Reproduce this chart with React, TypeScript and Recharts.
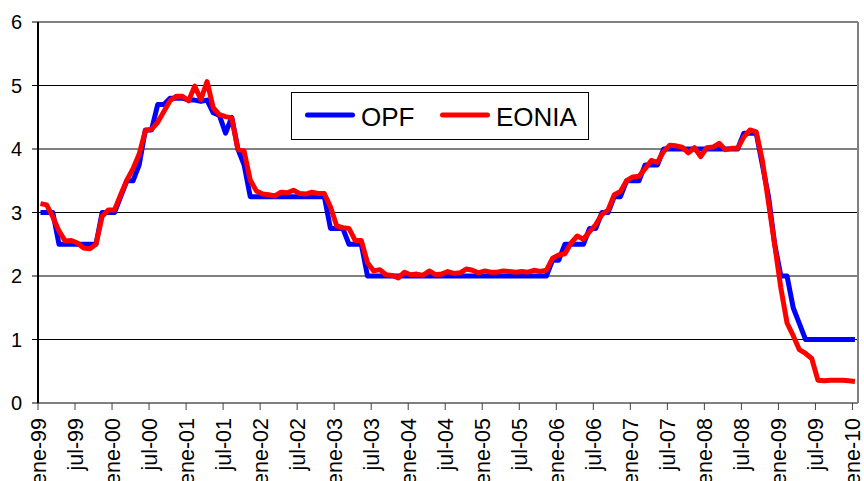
import React from 'react';
import { LineChart, Line, XAxis, YAxis, CartesianGrid, ReferenceLine, Legend } from 'recharts';

const FONT = "'Liberation Sans', Arial, Helvetica, sans-serif";

const monthNames = ['ene', 'feb', 'mar', 'abr', 'may', 'jun', 'jul', 'ago', 'sep', 'oct', 'nov', 'dic'];
const years = ['99', '00', '01', '02', '03', '04', '05', '06', '07', '08', '09', '10'];

const tickLabels = [
  'ene-99', 'jul-99', 'ene-00', 'jul-00', 'ene-01', 'jul-01', 'ene-02', 'jul-02',
  'ene-03', 'jul-03', 'ene-04', 'jul-04', 'ene-05', 'jul-05', 'ene-06', 'jul-06',
  'ene-07', 'jul-07', 'ene-08', 'jul-08', 'ene-09', 'jul-09', 'ene-10',
];

const opf = [
  3.0, 3.0, 3.0, 2.5, 2.5, 2.5, 2.5, 2.5, 2.5, 2.5, 3.0, 3.0,
  3.0, 3.25, 3.5, 3.5, 3.75, 4.3, 4.3, 4.7, 4.7, 4.8, 4.8, 4.8,
  4.77, 4.77, 4.75, 4.77, 4.57, 4.53, 4.25, 4.5, 4.0, 3.75, 3.25, 3.25,
  3.25, 3.25, 3.25, 3.25, 3.25, 3.25, 3.25, 3.25, 3.25, 3.25, 3.25, 2.75,
  2.75, 2.75, 2.5, 2.5, 2.5, 2.0, 2.0, 2.0, 2.0, 2.0, 2.0, 2.0,
  2.0, 2.0, 2.0, 2.0, 2.0, 2.0, 2.0, 2.0, 2.0, 2.0, 2.0, 2.0,
  2.0, 2.0, 2.0, 2.0, 2.0, 2.0, 2.0, 2.0, 2.0, 2.0, 2.0, 2.25,
  2.25, 2.5, 2.5, 2.5, 2.5, 2.75, 2.75, 3.0, 3.0, 3.25, 3.25, 3.5,
  3.5, 3.5, 3.75, 3.75, 3.75, 4.0, 4.0, 4.0, 4.0, 4.0, 4.0, 4.0,
  4.0, 4.0, 4.0, 4.0, 4.0, 4.0, 4.25, 4.25, 4.25, 3.75, 3.25, 2.5,
  2.0, 2.0, 1.5, 1.25, 1.0, 1.0, 1.0, 1.0, 1.0, 1.0, 1.0, 1.0,
  1.0,
];

const eonia = [
  3.14, 3.12, 2.93, 2.71, 2.55, 2.56, 2.52, 2.44, 2.43, 2.50, 2.94, 3.04,
  3.04, 3.28, 3.51, 3.69, 3.92, 4.29, 4.31, 4.42, 4.59, 4.76, 4.83, 4.83,
  4.76, 4.99, 4.78, 5.06, 4.65, 4.54, 4.51, 4.49, 3.99, 3.97, 3.51, 3.34,
  3.29, 3.28, 3.26, 3.32, 3.31, 3.35, 3.30, 3.29, 3.32, 3.30, 3.30, 3.09,
  2.79, 2.76, 2.75, 2.56, 2.56, 2.21, 2.08, 2.10, 2.02, 2.01, 1.97, 2.06,
  2.02, 2.03, 2.01, 2.08, 2.02, 2.03, 2.07, 2.04, 2.05, 2.11, 2.09, 2.05,
  2.08, 2.06, 2.06, 2.08, 2.07, 2.06, 2.07, 2.06, 2.09, 2.07, 2.09, 2.28,
  2.33, 2.35, 2.52, 2.63, 2.58, 2.70, 2.81, 2.97, 3.04, 3.28, 3.33, 3.50,
  3.56, 3.57, 3.69, 3.82, 3.79, 3.96, 4.06, 4.05, 4.03, 3.94, 4.02, 3.88,
  4.02, 4.03, 4.09, 3.99, 4.01, 4.01, 4.19, 4.30, 4.27, 3.82, 3.15, 2.49,
  1.81, 1.26, 1.06, 0.84, 0.78, 0.70, 0.36, 0.35, 0.36, 0.36, 0.36, 0.35,
  0.34,
];

const seriesNames = ['OPF', 'EONIA'];
const seriesColors = ['#0000FF', '#FF0000'];

const yTicks = [0, 1, 2, 3, 4, 5, 6];

// layout constants
const TICK_SHIFT = -0.4;
const X_MAX = 132.5;

const data = opf.map((v, i) => ({
  t: i,
  month: `${monthNames[i % 12]}-${years[Math.floor(i / 12)]}`,
  opf: v,
  eonia: eonia[i],
}));

const xTicks = tickLabels.map((_, k) => k * 6 + TICK_SHIFT);

const XTick = (props: any) => {
  const { x, y, payload } = props;
  const idx = Math.round((payload.value - TICK_SHIFT) / 6);
  return (
    <text
      x={x}
      y={y}
      transform={`rotate(-90, ${x}, ${y})`}
      textAnchor="end"
      dy="0.35em"
      fontSize={21.5}
      fontFamily={FONT}
      fill="#000"
    >
      {tickLabels[idx]}
    </text>
  );
};

const renderLegend = () => (
  <div style={{ width: 298, height: 48, border: '1px solid #000', background: '#fff', boxSizing: 'border-box' }}>
    <svg width={296} height={46} style={{ display: 'block' }}>
      <line x1={15.5} x2={60.5} y1={22} y2={22} stroke={seriesColors[0]} strokeWidth={5} strokeLinecap="round" />
      <text x={69} y={33} fontSize={26} fontFamily={FONT} fill="#000">{seriesNames[0]}</text>
      <line x1={150.5} x2={195.5} y1={22} y2={22} stroke={seriesColors[1]} strokeWidth={5} strokeLinecap="round" />
      <text x={204} y={33} fontSize={26} fontFamily={FONT} fill="#000">{seriesNames[1]}</text>
    </svg>
  </div>
);

export default function App() {
  return (
    <div style={{ position: 'absolute', left: 0, top: 0, background: '#fff' }}>
      <LineChart width={864} height={481} data={data} margin={{ top: 22, right: 6, bottom: 0, left: 0 }}>
        <CartesianGrid vertical={false} stroke="#000" strokeWidth={1} />
        <XAxis
          type="number"
          dataKey="t"
          domain={[TICK_SHIFT, X_MAX]}
          ticks={xTicks}
          interval={0}
          height={78}
          tickSize={7}
          tickMargin={8}
          axisLine={{ stroke: '#808080', strokeWidth: 2 }}
          tickLine={{ stroke: '#404040', strokeWidth: 1 }}
          tick={<XTick />}
        />
        <YAxis
          type="number"
          domain={[0, 6]}
          ticks={yTicks}
          interval={0}
          width={38}
          tickSize={6}
          tickMargin={10}
          axisLine={{ stroke: '#000', strokeWidth: 2 }}
          tickLine={{ stroke: '#000', strokeWidth: 1 }}
          tick={{ fontSize: 20, fontFamily: FONT, fill: '#000' }}
        />
        <ReferenceLine y={6} stroke="#808080" strokeWidth={2} />
        <ReferenceLine x={X_MAX} stroke="#808080" strokeWidth={2} />
        <Line
          type="linear"
          dataKey="opf"
          name={seriesNames[0]}
          stroke={seriesColors[0]}
          strokeWidth={5}
          strokeLinejoin="round"
          dot={false}
          activeDot={false}
          isAnimationActive={false}
        />
        <Line
          type="linear"
          dataKey="eonia"
          name={seriesNames[1]}
          stroke={seriesColors[1]}
          strokeWidth={5}
          strokeLinejoin="round"
          dot={false}
          activeDot={false}
          isAnimationActive={false}
        />
        <Legend
          layout="horizontal"
          verticalAlign="middle"
          align="center"
          content={renderLegend}
          wrapperStyle={{ position: 'absolute', left: 291, top: 92, width: 298, height: 48 }}
        />
      </LineChart>
    </div>
  );
}
